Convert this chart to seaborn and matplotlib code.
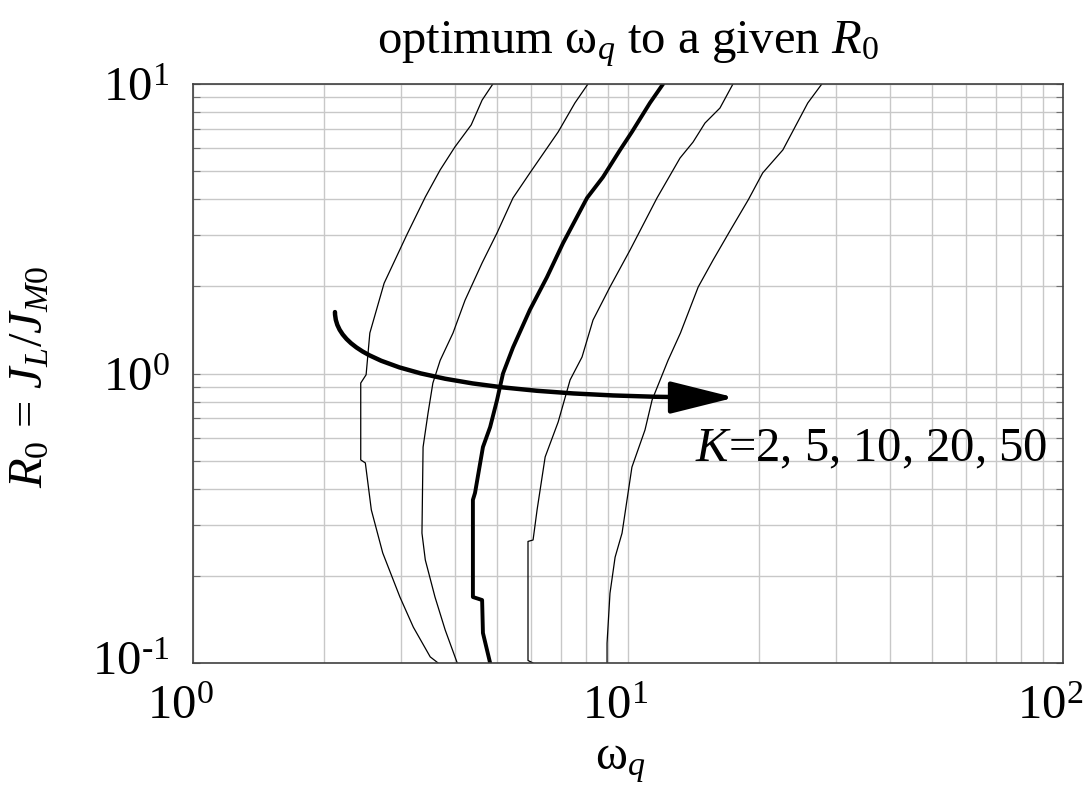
import matplotlib
matplotlib.use("Agg")
import matplotlib.pyplot as plt
import matplotlib.transforms as mtransforms
from matplotlib.ticker import LogLocator, FixedLocator, NullFormatter
import pandas as pd
import seaborn as sns

# optimum omega_q for each K (top to bottom of the plot)
k2_w = [4.89, 4.62, 4.36, 4.00, 3.70, 3.42, 3.10, 2.75, 2.55, 2.50, 2.43, 2.43,
        2.49, 2.57, 2.73, 2.99, 3.21, 3.51, 3.66]
k2_r = [10.0, 8.80, 7.22, 6.06, 5.05, 4.07, 3.01, 2.05, 1.38, 0.99, 0.927, 0.503,
        0.491, 0.338, 0.240, 0.169, 0.133, 0.105, 0.100]

k5_w = [8.09, 7.55, 6.91, 5.95, 5.44, 5.00, 4.62, 4.22, 3.96, 3.70, 3.56, 3.47,
        3.38, 3.36, 3.42, 3.60, 3.80, 4.05]
k5_r = [10.0, 8.60, 6.83, 4.93, 4.04, 3.06, 2.41, 1.79, 1.38, 1.11, 0.927, 0.730,
        0.557, 0.281, 0.227, 0.169, 0.130, 0.100]

k10_w = [12.04, 11.23, 10.21, 9.59, 8.76, 8.05, 7.09, 6.51, 5.95, 5.44, 5.16, 5.00,
         4.82, 4.64, 4.45, 4.40, 4.40, 4.62, 4.64, 4.82]
k10_r = [10.0, 8.60, 6.83, 5.92, 4.77, 4.04, 2.82, 2.15, 1.66, 1.23, 1.00, 0.810,
         0.653, 0.557, 0.387, 0.366, 0.169, 0.165, 0.127, 0.100]

k20_w = [17.43, 16.27, 15.03, 14.11, 13.17, 11.66, 10.11, 9.09, 8.31, 7.84, 7.36,
         6.91, 6.45, 6.18, 6.05, 5.89, 5.89, 6.05]
k20_r = [10.0, 8.26, 7.33, 6.30, 5.55, 4.04, 2.67, 1.99, 1.53, 1.14, 0.950,
         0.680, 0.515, 0.338, 0.266, 0.263, 0.102, 0.100]

k50_w = [27.9, 25.9, 22.7, 20.4, 18.9, 17.2, 15.7, 14.5, 13.2, 12.36, 11.36, 10.94,
         10.21, 9.69, 9.34, 9.09, 8.95, 8.95]
k50_r = [10.0, 8.60, 5.92, 4.93, 3.98, 3.13, 2.47, 1.99, 1.38, 1.11, 0.810, 0.638,
         0.475, 0.281, 0.232, 0.174, 0.117, 0.100]

curves = [(k2_w, k2_r, 0.9), (k5_w, k5_r, 0.9), (k10_w, k10_r, 2.8),
          (k20_w, k20_r, 0.9), (k50_w, k50_r, 0.9)]

sns.set_theme(style="white")
plt.rcParams["font.family"] = ["Liberation Serif", "DejaVu Serif"]
plt.rcParams["mathtext.fontset"] = "custom"
plt.rcParams["mathtext.rm"] = "Liberation Serif"
plt.rcParams["mathtext.it"] = "Liberation Serif:italic"
plt.rcParams["mathtext.bf"] = "Liberation Serif:bold"
plt.rcParams["text.color"] = "black"
plt.rcParams["axes.labelcolor"] = "black"

fs = 35
fig = plt.figure(figsize=(10.87, 7.95), dpi=100)
ax = fig.add_axes([193 / 1087, 1 - 663 / 795, 870 / 1087, 579 / 795])

for w, r, lw in curves:
    df = pd.DataFrame({"w": w, "r": r})
    sns.lineplot(data=df, x="w", y="r", sort=False, estimator=None,
                 color="black", lw=lw, ax=ax)

ax.set_xscale("log")
ax.set_yscale("log")
ax.set_xlim(1, 100)
ax.set_ylim(0.1, 10)

ax.xaxis.set_major_locator(FixedLocator([1, 10, 100]))
ax.yaxis.set_major_locator(FixedLocator([0.1, 1, 10]))
ax.xaxis.set_minor_locator(LogLocator(base=10, subs=range(2, 10)))
ax.yaxis.set_minor_locator(LogLocator(base=10, subs=range(2, 10)))
ax.xaxis.set_minor_formatter(NullFormatter())
ax.yaxis.set_minor_formatter(NullFormatter())
ax.set_xticklabels([r"10$^{\mathregular{0}}$", r"10$^{\mathregular{1}}$",
                    r"10$^{\mathregular{2}}$"], fontsize=fs)
ax.set_yticklabels([r"10$^{\text{-}\mathregular{1}}$", r"10$^{\mathregular{0}}$",
                    r"10$^{\mathregular{1}}$"], fontsize=fs)

ax.grid(True, which="both", color="#c8c8c8", lw=1.0)
ax.set_axisbelow(True)
ax.tick_params(axis="x", which="both", length=0, pad=16, labelcolor="black")
ax.tick_params(axis="y", which="both", direction="in", left=True, right=True,
               length=5, width=0.8, color="#707070", pad=17, labelcolor="black")
for s in ax.spines.values():
    s.set_color("#404040")
    s.set_linewidth(1.2)

# shift x tick labels slightly left, like the original
off = mtransforms.ScaledTranslation(-13 / 100, 0, fig.dpi_scale_trans)
for lab in ax.get_xticklabels():
    lab.set_transform(lab.get_transform() + off)
# lift the lowest y label a little so it clears the 10^0 below it
lift = mtransforms.ScaledTranslation(0, 5 / 100, fig.dpi_scale_trans)
low = ax.get_yticklabels()[0]
low.set_transform(low.get_transform() + lift)

ax.set_title(r"optimum $\mathrm{\omega}_q$ to a given $R_0$", fontsize=fs, pad=22)
ax.set_xlabel(r"$\mathrm{\omega}_q$", fontsize=fs)
ax.set_ylabel(r"$R_0$ = $J_L$/$J_{M0}$", fontsize=fs)
ax.xaxis.set_label_coords(0.491, -0.135)
ax.yaxis.set_label_coords(-0.162, 0.494)

ax.annotate("", xy=(17.6, 0.826), xytext=(2.12, 1.63),
            arrowprops=dict(arrowstyle="-|>,head_length=2.0,head_width=0.5",
                            mutation_scale=20, lw=3.2, color="black",
                            connectionstyle="angle3,angleA=90,angleB=0",
                            shrinkA=0, shrinkB=0))
ax.text(14.26, 0.495, r"$K$=2, 5, 10, 20, 50", fontsize=fs, ha="left",
        va="baseline")

fig.savefig("out.png", dpi=100, facecolor="white")
